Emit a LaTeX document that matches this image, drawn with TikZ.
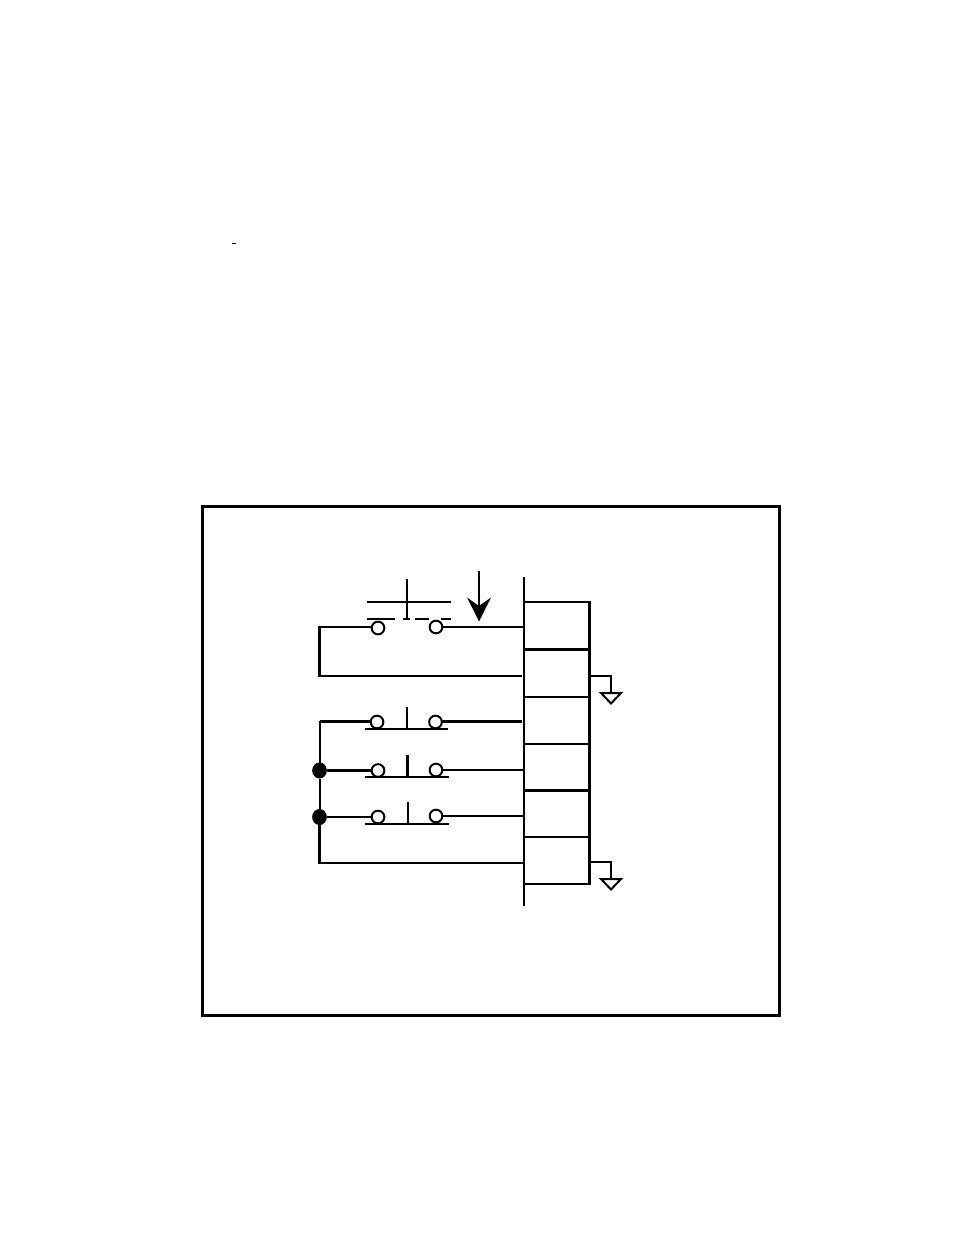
\documentclass[tikz,border=0pt]{standalone}
\usetikzlibrary{shapes.geometric}
\begin{document}
\begin{tikzpicture}[x=0.75pt,y=-0.75pt,
  thick wire/.style={line width=2.25pt,line cap=butt,shorten <=-0.75pt,shorten >=-0.75pt},
  wire/.style={line width=1.5pt},
  contact/.style={circle,draw,fill=white,line width=1.5pt,minimum size=9.5pt,inner sep=0pt,outer sep=0pt},
  junction/.style={ellipse,fill=black,minimum width=11pt,minimum height=12pt,inner sep=0pt,outer sep=0pt},
  ground/.style={draw,line width=1.5pt,line join=miter,fill=white}]
\useasboundingbox (0,0) rectangle (954,1235);
\fill[white] (0,0) rectangle (954,1235);
% frame
\draw[line width=2.25pt] (202,506.5) rectangle (779.5,1015.5);
% small mark
\coordinate (m1) at (232,243.5);
\coordinate (m2) at (236,243.5);
\draw[line width=0.9pt] (m1) -- (m2);
% terminal strip
\coordinate (stripT) at (524,577);
\coordinate (stripB) at (524,905.5);
\draw[wire] (stripT) -- (stripB);
\coordinate (r0) at (589.5,602); \coordinate (l0) at (524,602);
\coordinate (r1) at (589.5,649.5); \coordinate (l1) at (524,649.5);
\coordinate (r2) at (589.5,697); \coordinate (l2) at (524,697);
\coordinate (r3) at (589.5,744); \coordinate (l3) at (524,744);
\coordinate (r4) at (589.5,790.5); \coordinate (l4) at (524,790.5);
\coordinate (r5) at (589.5,837); \coordinate (l5) at (524,837);
\coordinate (r6) at (589.5,884); \coordinate (l6) at (524,884);
\draw[wire] (l0) -- (r0);
\draw[thick wire,shorten <=0pt,shorten >=0pt] (l1) -- (r1);
\draw[wire] (l2) -- (r2);
\draw[wire] (l3) -- (r3);
\draw[thick wire,shorten <=0pt,shorten >=0pt] (l4) -- (r4);
\draw[wire] (l5) -- (r5);
\draw[wire] (l6) -- (r6);
\draw[thick wire] (r0) -- (r6);
% grounds
\coordinate (g1a) at (589.5,676); \coordinate (g1b) at (611,676); \coordinate (g1c) at (611,693);
\draw[wire] (g1a) -- (g1b) -- (g1c);
\draw[ground] (601,693) -- (621,693) -- (611,703.5) -- cycle;
\coordinate (g2a) at (589.5,862); \coordinate (g2b) at (611,862); \coordinate (g2c) at (611,879);
\draw[wire] (g2a) -- (g2b) -- (g2c);
\draw[ground] (601,879) -- (621,879) -- (611,889.5) -- cycle;
% top switch
\coordinate (aT) at (407,579);
\coordinate (aB) at (407,619);
\coordinate (bL) at (367,602);
\coordinate (bR) at (451,602);
\draw[wire] (aT) -- (aB);
\draw[wire] (bL) -- (bR);
\foreach \a/\b in {367/395,403/410,415/429,441/451}
  \draw[wire] (\a,619) -- (\b,619);
\node[contact] (c1a) at (378,628) {};
\node[contact] (c1b) at (436,627) {};
\coordinate (w1R) at (524,627);
\coordinate (w1L) at (319.5,627);
\coordinate (w1B) at (319.5,676);
\coordinate (w1E) at (522,676);
\draw[wire] (c1b) -- (w1R);
\draw[wire] (c1a.west |- w1L) -- (w1L);
\draw[thick wire] (w1L) -- (w1B);
\draw[wire] (w1B) -- (w1E);
% arrow
\coordinate (arT) at (479,571);
\coordinate (arB) at (479,608);
\draw[wire] (arT) -- (arB);
\fill (467,597.5) -- (479,606) -- (491,597.5) -- (479,621.5) -- cycle;
% switch 2
\node[contact] (c2a) at (377,722) {};
\node[contact] (c2b) at (435.5,722) {};
\coordinate (w2L) at (319.5,721);
\coordinate (w2R) at (522,721);
\draw[thick wire,shorten <=0pt,shorten >=0pt] (c2a.west |- w2L) -- (w2L);
\draw[thick wire,shorten <=0pt,shorten >=0pt] (c2b.east |- w2R) -- (w2R);
\draw[wire] (365,729) -- (448,729);
\draw[wire] (407,707) -- (407,729);
% switch 3
\node[junction] (j1) at (319.5,770.5) {};
\node[contact] (c3a) at (378,770.5) {};
\node[contact] (c3b) at (436,770) {};
\coordinate (w3R) at (524,769.5);
\draw[thick wire,shorten <=0pt,shorten >=0pt] (j1) -- (c3a);
\draw[wire] (c3b.east |- w3R) -- (w3R);
\draw[wire] (365,777) -- (449,777);
\draw[thick wire,shorten <=0pt,shorten >=0pt] (407,755) -- (407,777);
% switch 4
\node[junction] (j2) at (319.5,817) {};
\node[contact] (c4a) at (378,817) {};
\node[contact] (c4b) at (436,816) {};
\coordinate (w4R) at (524,816);
\draw[wire] (j2) -- (c4a);
\draw[wire] (c4b) -- (w4R);
\draw[wire] (365,824) -- (449,824);
\draw[wire] (408,802) -- (408,824);
% left bus
\coordinate (w5L) at (319.5,863);
\coordinate (w5R) at (524,863);
\draw[wire] (w2L) -- (j1);
\draw[wire] (j1) -- (j2);
\draw[thick wire] (j2) -- (w5L);
\draw[wire] (w5L) -- (w5R);
\end{tikzpicture}
\end{document}
